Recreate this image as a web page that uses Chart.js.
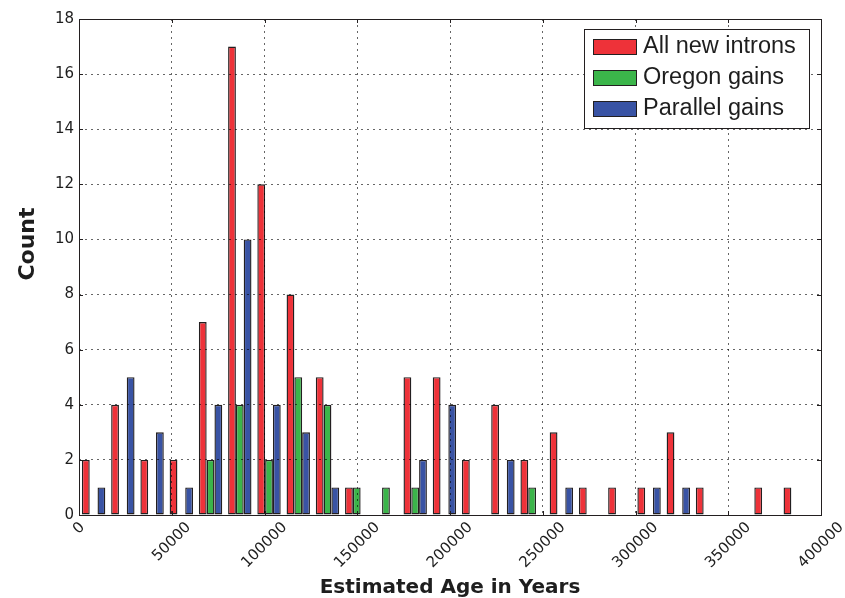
<!DOCTYPE html>
<html>
<head>
<meta charset="utf-8">
<title>Estimated intron ages</title>
<script src="https://cdn.jsdelivr.net/npm/chart.js@4.4.1/dist/chart.umd.min.js"></script>
<style>
  html, body { margin: 0; padding: 0; background: #fff; }
  #wrap { width: 845px; height: 598px; }
</style>
</head>
<body>
<div id="wrap"><canvas id="chart" width="845" height="598"></canvas></div>
<script>
// ─── Data ───────────────────────────────────────────────────
const binStart = 0;          // first bin edge (years)
const binWidth = 15760;      // histogram bin width (years)

const allNewIntrons = [2, 4, 2, 2, 7, 17, 12, 8, 5, 1, 0, 5, 5, 2, 4, 2, 3, 1, 1, 1, 3, 1, 0, 1, 1];
const oregonGains   = [0, 0, 0, 0, 2, 4, 2, 5, 4, 1, 1, 1, 0, 0, 0, 1, 0, 0, 0, 0, 0, 0, 0, 0, 0];
const parallelGains = [1, 5, 3, 1, 4, 10, 4, 3, 1, 0, 0, 2, 4, 0, 2, 0, 1, 0, 0, 1, 1, 0, 0, 0, 0];

const seriesNames = ["All new introns", "Oregon gains", "Parallel gains"];
const xTicks = [0, 50000, 100000, 150000, 200000, 250000, 300000, 350000, 400000];
const yTicks = [0, 2, 4, 6, 8, 10, 12, 14, 16, 18];

// ─── Style ──────────────────────────────────────────────────
const RED   = "#ee3239";
const GREEN = "#3bb54a";
const BLUE  = "#3953a4";
const EDGE  = "#231f20";
const INK   = "#1e1e1e";
const FONT  = "'DejaVu Sans', sans-serif";

Chart.defaults.font.family = FONT;
Chart.defaults.color = INK;

// bars sit on the bin centres
const toPoints = counts => counts.map((c, i) => ({ x: binStart + binWidth * (i + 0.5), y: c }));

// ─── Decorations: frame, inward ticks, x labels, y title, legend ───
const decorPlugin = {
  id: "decor",
  afterDraw(chart) {
    const { ctx, chartArea: a, scales: { x, y } } = chart;
    ctx.save();

    // frame
    ctx.strokeStyle = EDGE;
    ctx.lineWidth = 1;
    ctx.setLineDash([]);
    ctx.strokeRect(a.left + 0.5, a.top + 0.5, a.right - a.left, a.bottom - a.top);

    // inward tick marks on all four sides
    ctx.beginPath();
    xTicks.forEach(v => {
      const px = Math.round(x.getPixelForValue(v)) + 0.5;
      ctx.moveTo(px, a.bottom); ctx.lineTo(px, a.bottom - 4);
      ctx.moveTo(px, a.top);    ctx.lineTo(px, a.top + 4);
    });
    yTicks.forEach(v => {
      const py = Math.round(y.getPixelForValue(v)) + 0.5;
      ctx.moveTo(a.left, py);  ctx.lineTo(a.left + 4, py);
      ctx.moveTo(a.right, py); ctx.lineTo(a.right - 4, py);
    });
    ctx.stroke();

    // x tick labels, rotated 45 deg, centred under the tick
    ctx.font = "15px " + FONT;
    ctx.fillStyle = INK;
    ctx.textAlign = "center";
    ctx.textBaseline = "middle";
    xTicks.forEach(v => {
      const label = String(v);
      const w = ctx.measureText(label).width;
      const box = (w + 11) * Math.SQRT1_2;
      const px = x.getPixelForValue(v);
      ctx.save();
      ctx.translate(px, a.bottom + 6 + box / 2);
      ctx.rotate(-Math.PI / 4);
      ctx.fillText(label, 0, 0);
      ctx.restore();
    });

    // y axis title
    ctx.save();
    ctx.font = "bold 22px " + FONT;
    ctx.textBaseline = "alphabetic";
    ctx.translate(34, 244);
    ctx.rotate(-Math.PI / 2);
    ctx.fillText("Count", 0, 0);
    ctx.restore();

    // legend box
    const lx = 584.5, ly = 29.5, lw = 225, lh = 99;
    ctx.fillStyle = "#fff";
    ctx.fillRect(lx, ly, lw, lh);
    ctx.strokeStyle = EDGE;
    ctx.strokeRect(lx, ly, lw, lh);
    ctx.font = "23.5px 'Liberation Sans', Arial, sans-serif";
    ctx.textAlign = "left";
    ctx.textBaseline = "middle";
    chart.data.datasets.forEach((ds, i) => {
      const top = 39 + i * 31;
      ctx.fillStyle = ds.backgroundColor;
      ctx.fillRect(593.5, top + 0.5, 43, 15);
      ctx.strokeRect(593.5, top + 0.5, 43, 15);
      ctx.fillStyle = INK;
      ctx.fillText(ds.label, 643, top + 8);
    });

    ctx.restore();
  }
};

// ─── Chart ──────────────────────────────────────────────────
new Chart(document.getElementById("chart").getContext("2d"), {
  type: "bar",
  data: {
    datasets: [
      { label: seriesNames[0], data: toPoints(allNewIntrons), backgroundColor: RED },
      { label: seriesNames[1], data: toPoints(oregonGains),   backgroundColor: GREEN },
      { label: seriesNames[2], data: toPoints(parallelGains), backgroundColor: BLUE }
    ]
  },
  options: {
    responsive: false,
    animation: false,
    devicePixelRatio: 1,
    layout: { padding: { left: 0, top: 19, right: 24, bottom: 0 } },
    datasets: {
      bar: {
        categoryPercentage: 0.8,
        barPercentage: 1.0,
        borderColor: EDGE,
        borderWidth: 1.4,
        borderSkipped: false,
        inflateAmount: 0
      }
    },
    plugins: {
      legend: { display: false },
      tooltip: { enabled: false }
    },
    scales: {
      x: {
        type: "linear",
        min: 0, max: 400000,
        offset: false,
        afterBuildTicks: s => { s.ticks = xTicks.map(v => ({ value: v })); },
        ticks: { display: false },
        grid: { offset: false, color: "rgba(0,0,0,0.6)", lineWidth: 1, drawTicks: false, z: 1 },
        border: { display: false, dash: [2, 4] },
        title: {
          display: true,
          text: "Estimated Age in Years",
          color: INK,
          font: { family: FONT, size: 20, weight: "bold" },
          padding: { top: 0, bottom: -2 }
        },
        afterFit: s => { s.height = 83; }
      },
      y: {
        min: 0, max: 18,
        afterBuildTicks: s => { s.ticks = yTicks.map(v => ({ value: v })); },
        ticks: { padding: 5, color: INK, font: { family: FONT, size: 15 } },
        grid: { color: "rgba(0,0,0,0.6)", lineWidth: 1, drawTicks: false, z: 1 },
        border: { display: false, dash: [2, 4] },
        afterFit: s => { s.width = 79; }
      }
    }
  },
  plugins: [decorPlugin]
});
</script>
</body>
</html>
